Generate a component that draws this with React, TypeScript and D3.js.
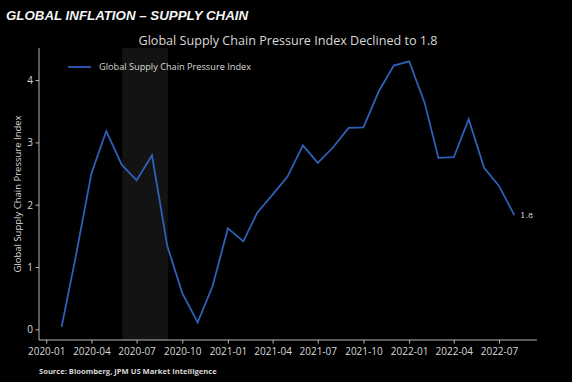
import React from "react";
import * as d3 from "d3";

const dates: string[] = [
  "2020-01-31","2020-02-29","2020-03-31","2020-04-30","2020-05-31","2020-06-30",
  "2020-07-31","2020-08-31","2020-09-30","2020-10-31","2020-11-30","2020-12-31",
  "2021-01-31","2021-02-28","2021-03-31","2021-04-30","2021-05-31","2021-06-30",
  "2021-07-31","2021-08-31","2021-09-30","2021-10-31","2021-11-30","2021-12-31",
  "2022-01-31","2022-02-28","2022-03-31","2022-04-30","2022-05-31","2022-06-30",
  "2022-07-31",
];
const gscpi: number[] = [
  0.05, 1.2, 2.51, 3.19, 2.65, 2.40,
  2.80, 1.34, 0.59, 0.12, 0.70, 1.63,
  1.42, 1.88, 2.17, 2.46, 2.96, 2.68,
  2.93, 3.24, 3.25, 3.83, 4.24, 4.31,
  3.65, 2.76, 2.77, 3.38, 2.60, 2.31,
  1.84,
];
const xTickLabels: string[] = [
  "2020-01","2020-04","2020-07","2020-10","2021-01","2021-04",
  "2021-07","2021-10","2022-01","2022-04","2022-07",
];
const yTicks: number[] = [0, 1, 2, 3, 4];
const shadeRange: string[] = ["2020-06-01", "2020-09-01"];
const header = "GLOBAL INFLATION \u2013 SUPPLY CHAIN";
const title = "Global Supply Chain Pressure Index Declined to 1.8";
const seriesName = "Global Supply Chain Pressure Index";
const source = "Source: Bloomberg, JPM US Market Intelligence";
const endLabel = "1.8";

const W = 572, H = 382;
const left = 39, right = 537, top = 48, bottom = 340;
const parse = d3.utcParse("%Y-%m-%d");
const parseM = d3.utcParse("%Y-%m");

export default function App() {
  const pts = dates.map((d, i) => ({ date: parse(d) as Date, v: gscpi[i] }));
  const ext = d3.extent(pts, (p) => p.date.getTime()) as [number, number];
  const span = ext[1] - ext[0];
  const x = d3
    .scaleUtc()
    .domain([new Date(ext[0] - span * 0.05), new Date(ext[1] + span * 0.05)])
    .range([left, right]);
  const vext = d3.extent(gscpi) as [number, number];
  const vs = vext[1] - vext[0];
  const y = d3
    .scaleLinear()
    .domain([vext[0] - vs * 0.05, vext[1] + vs * 0.05])
    .range([bottom, top]);
  const line = d3
    .line<{ date: Date; v: number }>()
    .x((p) => x(p.date))
    .y((p) => y(p.v));
  const last = pts[pts.length - 1];
  const axisColor = "#b8b8b8";
  const textColor = "#d8d8d8";
  const font = "'Open Sans', 'Noto Sans', sans-serif";
  const s0 = x(parse(shadeRange[0]) as Date);
  const s1 = x(parse(shadeRange[1]) as Date);

  return (
    <svg
      width={W}
      height={H}
      style={{ position: "absolute", left: 0, top: 0, background: "#000" }}
    >
      <rect x={0} y={0} width={W} height={H} fill="#000" />
      <text
        x={6}
        y={20}
        fill="#f4f4f4"
        fontFamily="'Liberation Sans', Arial, sans-serif"
        fontWeight="bold"
        fontStyle="italic"
        fontSize={13.3}
      >
        {header}
      </text>
      <text
        x={(left + right) / 2}
        y={45}
        textAnchor="middle"
        fill={textColor}
        fontFamily={font}
        fontSize={12.6}
      >
        {title}
      </text>
      <rect x={s0} y={top} width={s1 - s0} height={bottom - top} fill="#131313" />
      <path d={line(pts) || ""} fill="none" stroke="#2f60b8" strokeWidth={1.8} strokeLinejoin="miter" />
      <text x={x(last.date) + 6} y={y(last.v) + 3} fill={textColor} fontFamily="'DejaVu Serif', serif" fontSize={8}>
        {endLabel}
      </text>
      {/* axes */}
      <line x1={left} x2={left} y1={top} y2={bottom} stroke={axisColor} strokeWidth={1} />
      <line x1={left} x2={right} y1={bottom} y2={bottom} stroke={axisColor} strokeWidth={1} />
      {yTicks.map((t) => (
        <g key={t}>
          <line x1={left - 3.5} x2={left} y1={y(t)} y2={y(t)} stroke={axisColor} />
          <text
            x={left - 6}
            y={y(t) + 3.5}
            textAnchor="end"
            fill={textColor}
            fontFamily={font}
            fontSize={10}
          >
            {t}
          </text>
        </g>
      ))}
      {xTickLabels.map((t) => {
        const xx = x(parseM(t) as Date);
        return (
          <g key={t}>
            <line x1={xx} x2={xx} y1={bottom} y2={bottom + 3.5} stroke={axisColor} />
            <text
              x={xx}
              y={355}
              textAnchor="middle"
              fill={textColor}
              fontFamily={font}
              fontSize={10}
            >
              {t}
            </text>
          </g>
        );
      })}
      <text
        transform={`translate(21,${(top + bottom) / 2}) rotate(-90)`}
        textAnchor="middle"
        fill={textColor}
        fontFamily={font}
        fontSize={9.5}
      >
        {seriesName}
      </text>
      {/* legend */}
      <line x1={68} x2={91} y1={67} y2={67} stroke="#2f60b8" strokeWidth={1.8} />
      <text x={99} y={70} fill={textColor} fontFamily={font} fontSize={9.2}>
        {seriesName}
      </text>
      <text
        x={39}
        y={374}
        fill={textColor}
        fontFamily={font}
        fontWeight="bold"
        fontSize={7.6}
      >
        {source}
      </text>
    </svg>
  );
}
